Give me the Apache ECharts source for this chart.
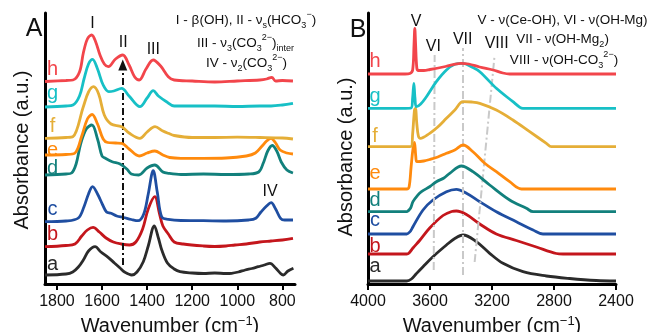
<!DOCTYPE html>
<html><head><meta charset="utf-8">
<script src="https://cdn.jsdelivr.net/npm/echarts@6/dist/echarts.min.js"></script>
<style>html,body{margin:0;padding:0;background:#fff}#c{width:651px;height:332px}</style>
</head><body><div id="c"></div>
<script>
const FONT = '"Liberation Sans", Arial, Helvetica, sans-serif';

// ---------- Panel A (1853–744 cm-1), offset absorbance (a.u.) ----------
const A_a = [[1853,9],[1760,10],[1730,12],[1705,17],[1683,24],[1660,33],[1631,37.3],[1605,32],[1573,26.7],[1545,21],[1520,16],[1500,12],[1468,9],[1445,12],[1417,22.3],[1395,38],[1368,58],[1350,46],[1335,34],[1310,21],[1280,15],[1254,12.3],[1200,11],[1150,10.5],[1100,11],[1050,10.5],[1025,10.7],[995,12],[965,14],[935,15.5],[907,17.3],[880,19],[855,20.7],[830,16],[810,11],[796,9],[775,13],[751,15.7]];
const A_b = [[1853,37.3],[1760,38.5],[1720,40],[1690,48],[1665,54],[1640,56.7],[1612,52],[1582,46],[1550,42],[1515,40],[1478,39],[1450,42],[1420,55],[1395,75],[1366,87.3],[1345,70],[1330,58],[1306,50],[1280,42],[1240,40],[1150,38],[1100,37.5],[1050,38],[1010,39],[960,40],[900,42],[850,43],[800,44],[753,45.7]];
const A_c = [[1853,62.3],[1760,63],[1705,66],[1680,77.3],[1660,90],[1642,97.3],[1620,90],[1597,79],[1580,72],[1560,70.7],[1535,68],[1505,66.5],[1470,64.5],[1440,63.3],[1415,70],[1395,90],[1373,113.3],[1355,92],[1335,67],[1306,64.7],[1250,63.5],[1150,63.3],[1050,63],[950,64],[918,65.7],[895,72],[870,78],[850,81.3],[830,75],[808,65.7],[790,64],[753,64]];
const A_d = [[1853,109],[1760,110],[1735,111],[1715,120],[1695,140],[1670,155],[1645,159],[1620,145],[1600,128],[1585,125.7],[1555,122.3],[1520,120],[1490,115],[1470,110],[1437,109],[1400,116],[1366,119],[1330,112],[1306,110.7],[1250,109.5],[1150,110],[1050,109.5],[950,110],[905,112],[885,120.7],[865,133],[845,138.5],[825,133],[805,122],[780,114],[753,111]];
const A_e = [[1853,129],[1760,129.5],[1720,131],[1690,148],[1665,165],[1644,169.5],[1620,160],[1595,145],[1575,141.5],[1540,141],[1513,140.7],[1480,135],[1435,128],[1400,131],[1366,133],[1330,129],[1300,126.5],[1250,125.7],[1150,125.7],[1050,126],[960,128],[920,131],[890,138],[870,143],[850,145.7],[830,141],[810,134],[780,131],[753,130]];
const A_f = [[1853,145.7],[1760,146.5],[1729,147.3],[1683,177.3],[1660,192],[1638,197.3],[1615,190],[1590,169],[1560,160],[1513,157.3],[1480,151],[1432,145.7],[1400,152],[1365,157.3],[1330,153],[1306,150.7],[1280,148.5],[1200,146.5],[1100,146.5],[1000,146.8],[900,146.5],[800,146],[753,145]];
const A_g = [[1853,177],[1760,178],[1729,179],[1700,188],[1680,205],[1660,220],[1642,224.7],[1620,215],[1595,199],[1570,192.3],[1548,193],[1513,195.7],[1480,188],[1432,177.3],[1400,186],[1373,193.3],[1350,188],[1314,182.3],[1280,178],[1200,178],[1100,178],[1000,177.5],[900,178],[850,178],[800,179],[753,180.7]];
const A_h = [[1853,202.5],[1760,203.5],[1729,204],[1700,212],[1683,231],[1665,245],[1646,249],[1628,242],[1609,229],[1590,220],[1572,217.3],[1540,225],[1508,229],[1480,219],[1455,207],[1435,204],[1405,215],[1373,224],[1340,218],[1306,207.3],[1280,204],[1200,203],[1100,202],[1000,203],[900,204],[870,205],[847,206.7],[830,203],[800,203.5],[753,203]];

// ---------- Panel B (4000–2400 cm-1) ----------
const B_a = [[4000,3],[3750,3],[3720,5],[3690,10],[3645,17.3],[3581,27.3],[3494,39],[3440,45.5],[3387,49],[3301,42.3],[3215,30.7],[3129,20.7],[3000,12.3],[2849,8],[2699,5.5],[2527,3.5],[2400,3]];
const B_b = [[4000,30],[3750,30],[3735,31],[3710,36],[3667,43.5],[3602,56],[3516,68.5],[3460,72.5],[3430,73],[3365,69.5],[3279,60],[3172,50],[3043,43.5],[2914,37],[2785,30.5],[2742,30],[2400,30]];
const B_c = [[4000,50],[3750,50],[3742,50.5],[3725,53],[3710,57.3],[3645,74],[3581,84],[3494,92.3],[3430,94.7],[3365,90.7],[3279,82.3],[3172,72.3],[3043,62.3],[2935,54],[2871,50],[2400,50]];
const B_d = [[4000,72.3],[3750,72.3],[3742,73],[3725,76],[3710,82.3],[3680,88.7],[3655,92.3],[3600,97.5],[3559,102.3],[3510,106],[3473,110.7],[3397,118],[3323,112.3],[3215,99],[3086,84],[2978,75.7],[2935,72.3],[2400,72.3]];
const B_e = [[4000,95],[3750,95],[3735,97],[3722,117],[3710,135],[3700,141.7],[3692,128],[3684,122.3],[3640,123],[3602,124.5],[3550,127],[3494,130.7],[3440,134],[3387,139],[3323,132.3],[3247,120.7],[3172,112.3],[3086,102.3],[3010,95],[2400,95]];
const B_f = [[4000,137.3],[3760,137.3],[3722,137.5],[3712,150],[3700,174],[3694,175.7],[3685,160],[3675,148],[3662,145.7],[3602,150.7],[3550,157],[3494,165.7],[3440,174],[3387,182.3],[3330,182],[3279,180.7],[3172,174],[3065,164],[2957,152.3],[2849,140.7],[2817,137.3],[2400,137.3]];
const B_g = [[4000,175.7],[3760,175.7],[3722,176],[3712,186],[3704,200.7],[3697,186],[3688,177.3],[3660,180],[3623,187.3],[3559,202.3],[3494,214],[3440,219.7],[3387,220.7],[3330,217],[3279,212.3],[3172,195.7],[3065,182.3],[3020,176.7],[3000,175.7],[2400,175.7]];
const B_h = [[4000,210],[3760,210],[3730,210.5],[3712,214],[3703,240],[3698,255.7],[3693,240],[3685,216],[3675,213.5],[3640,213.5],[3600,214.5],[3500,217.5],[3400,220.7],[3350,220],[3280,217],[3194,214],[3130,211],[3086,210],[2400,210]];

const curveNames = ['a','b','c','d','e','f','g','h'];
const colors = ['#2b2b2b','#c4161c','#1f4ea1','#12807c','#ff8a0d','#e5ae37','#17c0c6','#f2454b'];
const dataA = [A_a,A_b,A_c,A_d,A_e,A_f,A_g,A_h];
const dataB = [B_a,B_b,B_c,B_d,B_e,B_f,B_g,B_h];
const ticksA = [800,1000,1200,1400,1600,1800];

// guide lines (wavenumber, a.u.)
const arrowA = [[1508,19],[1508,219]];
const guideVI = [[3576,14],[3570,229]];
const guideVII = [[3391,9],[3391,236]];
const guideVIII = [[3312,22],[3183,229]];

// label pixel anchors
const curveLabelYA = [264,234.5,209,168,150,126,93,69];
const curveLabelYB = [266,246,220.5,200,173,136.7,96.5,61.7];

const chart = echarts.init(document.getElementById('c'), null, {renderer:'canvas'});

const series = [];
dataA.forEach((d,i)=>{
  series.push({type:'line', xAxisIndex:0, yAxisIndex:0, data:d, showSymbol:false, smooth:0.35,
    lineStyle:{width:2.8,color:colors[i]}, itemStyle:{color:colors[i]}, animation:false, silent:true, z:2+i});
});
dataB.forEach((d,i)=>{
  series.push({type:'line', xAxisIndex:1, yAxisIndex:1, data:d, showSymbol:false, smooth:0.35,
    lineStyle:{width:2.8,color:colors[i]}, itemStyle:{color:colors[i]}, animation:false, silent:true, z:2+i});
});
// arrow (panel A)
series[0].markLine = {silent:true, animation:false, symbol:['none','triangle'], symbolSize:[9,11],
  lineStyle:{color:'#111', width:2, type:[7,3,2,3]}, label:{show:false},
  data:[[{coord:arrowA[0]},{coord:arrowA[1]}]]};
// guides (panel B)
series[15].markLine = {silent:true, animation:false, symbol:['none','none'],
  lineStyle:{color:'#c9c9c9', width:2, type:[8,3,2,3]}, label:{show:false},
  data:[[{coord:guideVI[0]},{coord:guideVI[1]}],[{coord:guideVII[0]},{coord:guideVII[1]}],[{coord:guideVIII[0]},{coord:guideVIII[1]}]]};

const axisNameRich = {
  sup:{fontSize:13, fontFamily:FONT, color:'#111', verticalAlign:'top', lineHeight:12}
};
function xAxisBase(){
  return {type:'value', inverse:true, splitLine:{show:false},
    axisLine:{show:true, onZero:false, lineStyle:{color:'#000', width:3}},
    axisTick:{show:true, length:6, inside:false, lineStyle:{color:'#000', width:2}},
    axisLabel:{color:'#111', fontSize:16, fontFamily:FONT, margin:10, formatter:(v)=>String(v)},
    name:'Wavenumber (cm{sup|\u22121})', nameLocation:'middle', nameGap:24,
    nameTextStyle:{fontSize:20, fontFamily:FONT, color:'#111', lineHeight:24, rich:axisNameRich}};
}
const xA = xAxisBase();
xA.gridIndex = 0; xA.min = 744; xA.max = 1853;
xA.axisTick.customValues = ticksA; xA.axisLabel.customValues = ticksA;
const xB = xAxisBase();
xB.gridIndex = 1; xB.min = 2400; xB.max = 4000; xB.interval = 400;

function yAxisBase(idx){
  return {type:'value', gridIndex:idx, min:0, max:271, splitLine:{show:false},
    axisLine:{show:true, onZero:false, lineStyle:{color:'#000', width:3}},
    axisTick:{show:false}, axisLabel:{show:false}};
}

const subRich = {
  sub:{fontSize:9, fontFamily:FONT, fill:'#111', verticalAlign:'bottom', lineHeight:9},
  sup:{fontSize:9, fontFamily:FONT, fill:'#111', verticalAlign:'top', lineHeight:9},
  t:{fontSize:13.5, fontFamily:FONT, fill:'#111', lineHeight:20}
};
function note(x,y,text){
  return {type:'text', x:x, y:y, silent:true, style:{text:text, rich:subRich, fontSize:13.5, fontFamily:FONT, fill:'#111', align:'center', verticalAlign:'middle'}};
}
function txt(x,y,text,size,color,rot){
  return {type:'text', x:x, y:y, rotation:rot||0, silent:true, style:{text:text, fontSize:size, fontFamily:FONT, fill:color||'#111', align:'center', verticalAlign:'middle'}};
}

const graphics = [
  txt(34,29,'A',25), txt(358,30,'B',25),
  txt(22,150,'Absorbance (a.u.)',20,'#111',Math.PI/2),
  txt(346,157,'Absorbance (a.u.)',20,'#111',Math.PI/2),
  txt(92.5,24,'I',16), txt(123.3,43,'II',16), txt(153.3,50,'III',16), txt(270,192,'IV',16),
  txt(416,21.7,'V',16), txt(433.3,46.7,'VI',16), txt(462.7,40,'VII',16), txt(496.7,43.3,'VIII',16),
  note(246,20,'{t|I - β(OH), II - ν}{sub|s}{t|(HCO}{sub|3}{sup|−}{t|)}'),
  note(245.5,43,'{t|III - ν}{sub|3}{t|(CO}{sub|3}{sup|2−}{t|)}{sub|inter}'),
  note(246.5,63,'{t|IV - ν}{sub|2}{t|(CO}{sub|3}{sup|2−}{t|)}'),
  note(562.5,20,'{t|V - ν(Ce-OH), VI - ν(OH-Mg)}'),
  note(562.5,39.3,'{t|VII - ν(OH-Mg}{sub|2}{t|)}'),
  note(564,60,'{t|VIII - ν(OH-CO}{sub|3}{sup|2−}{t|)}')
];
curveNames.forEach((n,i)=>{
  graphics.push(txt(52.5, curveLabelYA[i], n, 20, colors[i]));
  graphics.push(txt(375, curveLabelYB[i], n, 20, colors[i]));
});

chart.setOption({
  animation:false,
  backgroundColor:'#fff',
  grid:[{left:45, top:13, width:250, height:271, outerBoundsMode:'none', containLabel:false},
        {left:368, top:13, width:248, height:271, outerBoundsMode:'none', containLabel:false}],
  xAxis:[xA, xB],
  yAxis:[yAxisBase(0), yAxisBase(1)],
  series: series,
  graphic: graphics
});
</script>
</body></html>
